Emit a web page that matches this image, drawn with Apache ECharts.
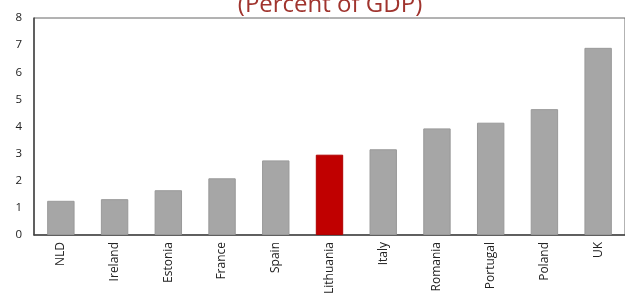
<!DOCTYPE html>
<html>
<head>
<meta charset="utf-8">
<script src="https://cdn.jsdelivr.net/npm/echarts@6/dist/echarts.min.js"></script>
<style>
html,body{margin:0;padding:0;background:#fff;}
#chart{width:625px;height:297px;}
</style>
</head>
<body>
<div id="chart"></div>
<script>
const categories = ["NLD","Ireland","Estonia","France","Spain","Lithuania","Italy","Romania","Portugal","Poland","UK"];
const values = [1.26,1.32,1.65,2.09,2.75,2.96,3.16,3.93,4.14,4.64,6.90];
const highlight = "Lithuania";
const yTicks = [0,1,2,3,4,5,6,7,8];
const titleText = "(Percent of GDP)";

const chart = echarts.init(document.getElementById('chart'), null, {renderer:'canvas'});
chart.setOption({
  animation:false,
  backgroundColor:'#fff',
  title:{
    text:titleText,
    left:325, top:-12, textAlign:'center',
    textStyle:{color:'#a0342e', fontSize:24, fontWeight:'normal', fontFamily:'Open Sans'}
  },
  grid:{left:34, top:18, bottom:61.5, width:597, show:true, borderColor:'#666', borderWidth:1},
  xAxis:{
    type:'category', data:categories,
    axisLine:{lineStyle:{color:'#444', width:1.5}},
    axisTick:{show:false},
    axisLabel:{rotate:90, fontSize:12, color:'#222', fontFamily:'Open Sans', margin:7, interval:0}
  },
  yAxis:{
    type:'value', min:yTicks[0], max:yTicks[yTicks.length-1], interval:1,
    axisLine:{show:true, lineStyle:{color:'#444', width:1.5}},
    axisTick:{show:false},
    splitLine:{show:false},
    axisLabel:{fontSize:11.5, color:'#222', fontFamily:'Open Sans', margin:12}
  },
  series:[{
    type:'bar',
    barCategoryGap:'49%',
    data:values.map((v,i)=>({value:v, itemStyle:{color: categories[i]===highlight ? '#c00000' : '#a6a6a6', borderColor: categories[i]===highlight ? '#b00000' : '#999', borderWidth:1}}))
  }]
});
</script>
</body>
</html>
